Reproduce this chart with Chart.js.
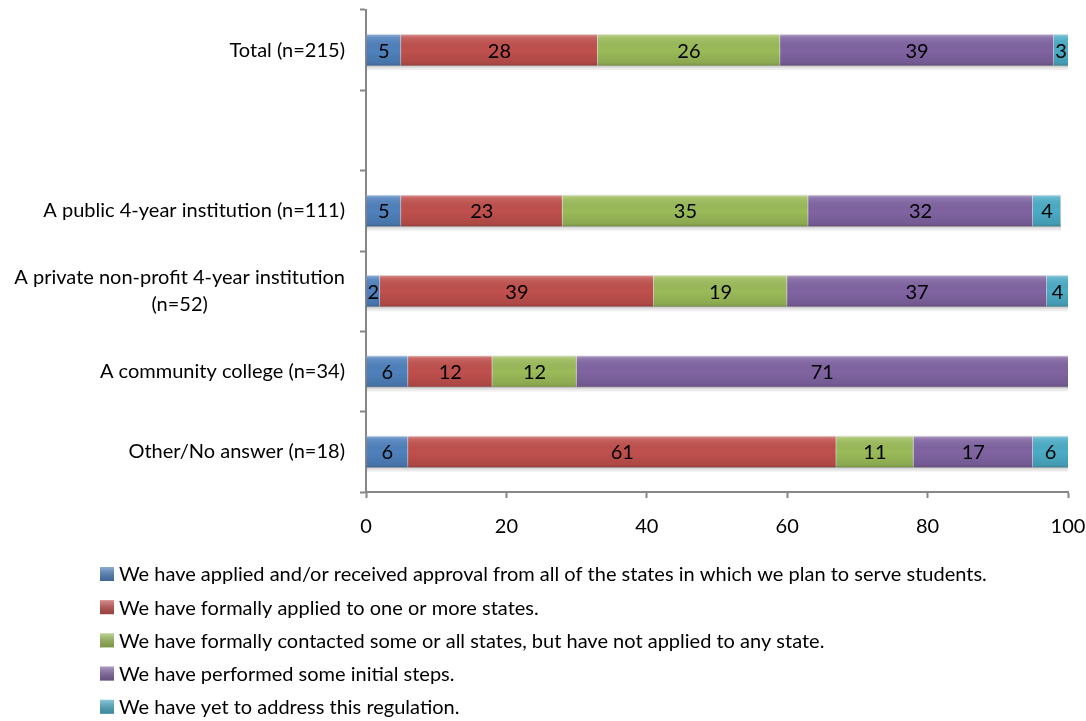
<!DOCTYPE html>
<html>
<head>
<meta charset="utf-8">
<script src="https://cdn.jsdelivr.net/npm/chart.js@4.4.1/dist/chart.umd.min.js"></script>
<style>
    html, body { margin: 0; padding: 0; background: #fff; }
    #wrap { position: relative; width: 1086px; height: 721px; }
</style>
</head>
<body>
<div id="wrap"><canvas id="stateChart"></canvas></div>
<script>
// Chart data
const categories = [
    'Total (n=215)',
    '',
    'A public 4-year institution (n=111)',
    ['A private non-profit 4-year institution', '(n=52)'],
    'A community college (n=34)',
    'Other/No answer (n=18)'
];
const appliedAll = [5, null, 5, 2, 6, 6];
const appliedSome = [28, null, 23, 39, 12, 61];
const contactedStates = [26, null, 35, 19, 12, 11];
const initialSteps = [39, null, 32, 37, 71, 17];
const yetToAddress = [3, null, 4, 4, null, 6];
const xTicks = [0, 20, 40, 60, 80, 100];

const seriesLabels = [
    'We have applied and/or received approval from all of the states in which we plan to serve students.',
    'We have formally applied to one or more states.',
    'We have formally contacted some or all states, but have not applied to any state.',
    'We have performed some initial steps.',
    'We have yet to address this regulation.'
];
const seriesValues = [appliedAll, appliedSome, contactedStates, initialSteps, yetToAddress];
const seriesColors = ['#4F81BD', '#C0504D', '#9BBB59', '#8064A2', '#4BACC6'];

const FONT = 'Lato, "Open Sans", sans-serif';
const AXIS_COLOR = '#878787';

// Glossy overlay, soft shadow and value labels on each segment
const barLabelPlugin = {
    id: 'barLabels',
    afterDatasetsDraw(chart) {
        const ctx = chart.ctx;
        const area = chart.chartArea;
        ctx.save();
        ctx.beginPath();
        ctx.rect(area.left, area.top, area.right - area.left, area.bottom - area.top);
        ctx.clip();
        chart.data.datasets.forEach((ds, i) => {
            const meta = chart.getDatasetMeta(i);
            meta.data.forEach((bar, j) => {
                const v = ds.data[j];
                if (v === null || v === undefined) return;
                const p = bar.getProps(['x', 'y', 'base', 'height'], true);
                const x0 = Math.min(p.x, p.base);
                const x1 = Math.min(Math.max(p.x, p.base), area.right);
                const top = p.y - p.height / 2;
                const bottom = top + p.height;
                const grad = ctx.createLinearGradient(0, top, 0, bottom);
                grad.addColorStop(0, 'rgba(255,255,255,0.40)');
                grad.addColorStop(0.10, 'rgba(255,255,255,0.12)');
                grad.addColorStop(0.5, 'rgba(0,0,0,0)');
                grad.addColorStop(0.9, 'rgba(0,0,0,0.10)');
                grad.addColorStop(1, 'rgba(0,0,0,0.25)');
                ctx.fillStyle = grad;
                ctx.fillRect(x0, top, x1 - x0, p.height);
                // soft shadow under the bar
                const sh = ctx.createLinearGradient(0, bottom, 0, bottom + 5);
                sh.addColorStop(0, 'rgba(0,0,0,0.16)');
                sh.addColorStop(1, 'rgba(0,0,0,0)');
                ctx.fillStyle = sh;
                ctx.fillRect(x0, bottom, x1 - x0, 5);
            });
        });
        ctx.restore();

        ctx.save();
        ctx.font = '20px ' + FONT;
        ctx.fillStyle = '#000';
        ctx.textAlign = 'center';
        ctx.textBaseline = 'middle';
        chart.data.datasets.forEach((ds, i) => {
            const meta = chart.getDatasetMeta(i);
            meta.data.forEach((bar, j) => {
                const v = ds.data[j];
                if (v === null || v === undefined) return;
                const p = bar.getProps(['x', 'y', 'base'], true);
                const x0 = Math.min(p.x, p.base);
                const x1 = Math.min(Math.max(p.x, p.base), area.right);
                ctx.fillText(String(v), (x0 + x1) / 2, p.y + 1);
            });
        });
        ctx.restore();
    }
};

// Category labels: right aligned, multi-line ones centred on themselves
const categoryLabelPlugin = {
    id: 'categoryLabels',
    afterDraw(chart) {
        const ctx = chart.ctx;
        const scale = chart.scales.y;
        const rightEdge = scale.right - 21;
        const lineHeight = 27;
        ctx.save();
        ctx.font = '20px ' + FONT;
        ctx.fillStyle = '#000';
        ctx.textBaseline = 'middle';
        chart.data.labels.forEach((label, i) => {
            const y = scale.getPixelForTick(i);
            if (Array.isArray(label)) {
                const widest = Math.max(...label.map(l => ctx.measureText(l).width));
                const cx = rightEdge - widest / 2;
                ctx.textAlign = 'center';
                label.forEach((line, k) => {
                    ctx.fillText(line, cx, y + (k - (label.length - 1) / 2) * lineHeight);
                });
            } else if (label) {
                ctx.textAlign = 'right';
                ctx.fillText(label, rightEdge, y);
            }
        });
        ctx.restore();
    }
};

// Legend drawn as a vertical list under the axis
const listLegendPlugin = {
    id: 'listLegend',
    afterDraw(chart) {
        const ctx = chart.ctx;
        ctx.save();
        ctx.font = '20px ' + FONT;
        ctx.textBaseline = 'middle';
        ctx.textAlign = 'left';
        chart.data.datasets.forEach((ds, i) => {
            const cy = 574 + i * 33.2;
            const grad = ctx.createLinearGradient(0, cy - 7, 0, cy + 7);
            grad.addColorStop(0, 'rgba(255,255,255,0.35)');
            grad.addColorStop(1, 'rgba(0,0,0,0.2)');
            ctx.fillStyle = ds.backgroundColor;
            ctx.fillRect(100, cy - 7, 14, 14);
            ctx.fillStyle = grad;
            ctx.fillRect(100, cy - 7, 14, 14);
            ctx.fillStyle = '#000';
            ctx.fillText(ds.label, 119, cy + 1);
        });
        ctx.restore();
    }
};

function createStateChart() {
    const ctx = document.getElementById('stateChart');
    if (!ctx) return null;

    return new Chart(ctx, {
        type: 'bar',
        data: {
            labels: categories,
            datasets: seriesLabels.map((label, i) => ({
                label: label,
                data: seriesValues[i],
                backgroundColor: seriesColors[i],
                borderColor: 'rgba(0,0,0,0.12)',
                borderWidth: 1,
                barThickness: 32
            }))
        },
        options: {
            indexAxis: 'y',
            responsive: true,
            maintainAspectRatio: false,
            animation: false,
            layout: { padding: { top: 10, right: 18, left: 0, bottom: 0 } },
            plugins: {
                legend: { display: false },
                tooltip: { enabled: false }
            },
            scales: {
                x: {
                    stacked: true,
                    min: 0,
                    max: 100,
                    afterBuildTicks: (axis) => {
                        axis.ticks = xTicks.map(v => ({ value: v }));
                    },
                    afterFit: (axis) => {
                        axis.height = 229;
                        axis.paddingLeft = 0;
                        axis.paddingRight = 0;
                    },
                    border: { color: AXIS_COLOR, width: 2 },
                    grid: {
                        drawOnChartArea: false,
                        drawTicks: true,
                        tickLength: 6,
                        tickWidth: 2,
                        color: AXIS_COLOR
                    },
                    ticks: {
                        color: '#000',
                        padding: 17,
                        font: { family: FONT, size: 20 },
                        maxRotation: 0
                    }
                },
                y: {
                    stacked: true,
                    afterFit: (axis) => {
                        axis.width = 366;
                        axis.paddingTop = 0;
                        axis.paddingBottom = 0;
                    },
                    border: { color: AXIS_COLOR, width: 2 },
                    grid: {
                        drawOnChartArea: false,
                        drawTicks: true,
                        tickLength: 6,
                        tickWidth: 2,
                        offset: true,
                        color: AXIS_COLOR
                    },
                    ticks: {
                        display: false
                    }
                }
            }
        },
        plugins: [barLabelPlugin, categoryLabelPlugin, listLegendPlugin]
    });
}

createStateChart();
</script>
</body>
</html>
